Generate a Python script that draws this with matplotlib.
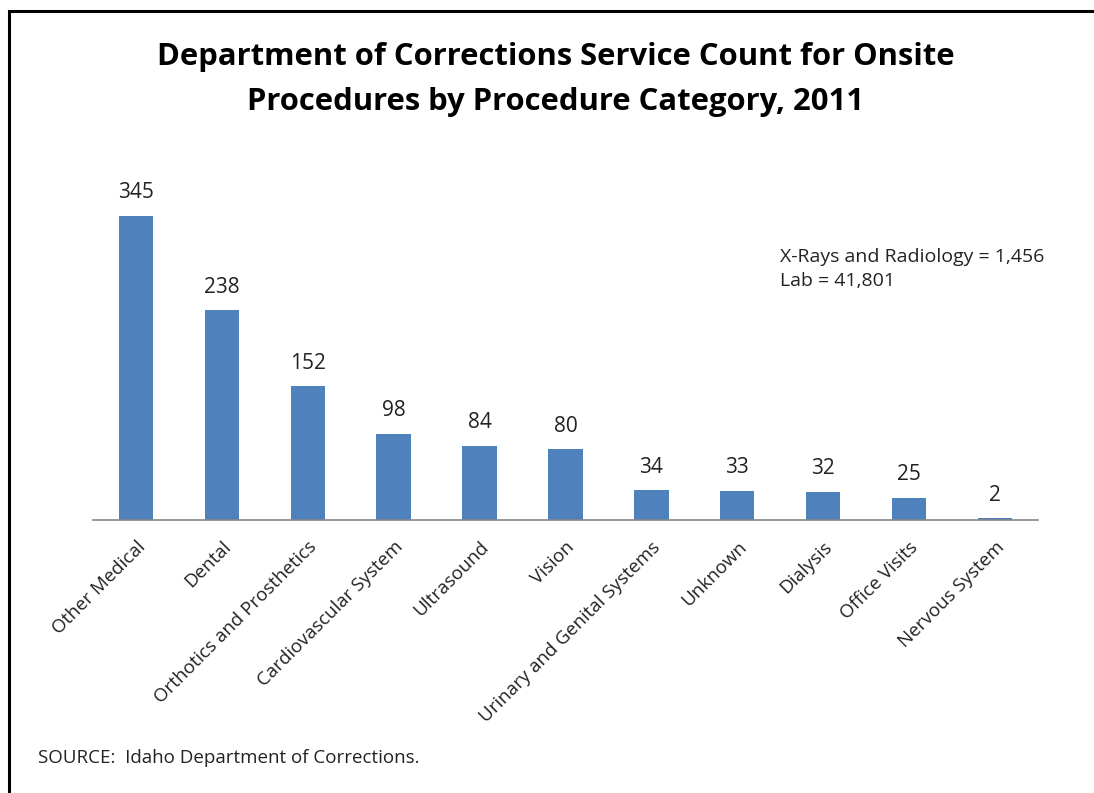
import matplotlib.pyplot as plt
from matplotlib.patches import Rectangle

plt.rcParams['font.family'] = ['Open Sans', 'DejaVu Sans']

categories = ["Other Medical", "Dental", "Orthotics and Prosthetics",
              "Cardiovascular System", "Ultrasound", "Vision",
              "Urinary and Genital Systems", "Unknown", "Dialysis",
              "Office Visits", "Nervous System"]
counts = [345, 238, 152, 98, 84, 80, 34, 33, 32, 25, 2]

title = ("Department of Corrections Service Count for Onsite\n"
         "Procedures by Procedure Category, 2011")
note = "X-Rays and Radiology = 1,456\nLab = 41,801"
source = "SOURCE:  Idaho Department of Corrections."

fig = plt.figure(figsize=(10.94, 7.93), dpi=100)
ax = fig.add_axes([0.085, 0.3443, 0.8638, 0.454])

x = range(len(categories))
bars = ax.bar(x, counts, width=0.4, color="#4F81BD")
ax.set_xlim(-0.5, len(categories) - 0.5)
ax.set_ylim(0, 408.6)

# value labels above bars
for rect, v in zip(bars, counts):
    ax.annotate(str(v), (rect.get_x() + rect.get_width() / 2, v),
                xytext=(0, 9), textcoords="offset points",
                ha="center", va="bottom", fontsize=15, color="#222222")

ax.set_xticks(list(x))
ax.set_xticklabels(categories, rotation=45, ha="right",
                   rotation_mode="anchor", fontsize=13.5, color="#222222")
ax.tick_params(axis="x", length=0, pad=13)
ax.set_yticks([])
for s in ["top", "right", "left"]:
    ax.spines[s].set_visible(False)
ax.spines["bottom"].set_color("#868686")
ax.spines["bottom"].set_linewidth(1.2)

fig.text(0.508, 0.8997, title, ha="center", va="center",
         fontsize=22.3, fontweight="bold", linespacing=1.62)
fig.text(0.713, 0.661, note, ha="left", va="center",
         fontsize=14, color="#222222", linespacing=1.4)
fig.text(0.035, 0.044, source, ha="left", va="center",
         fontsize=13.5, color="#222222")

# outer frame (left and top edges visible)
fig.patches.append(Rectangle((0.008, -0.05), 1.1, 1.036,
                             transform=fig.transFigure, fill=False,
                             edgecolor="black", linewidth=2.2))

fig.savefig("out.png", dpi=100)
